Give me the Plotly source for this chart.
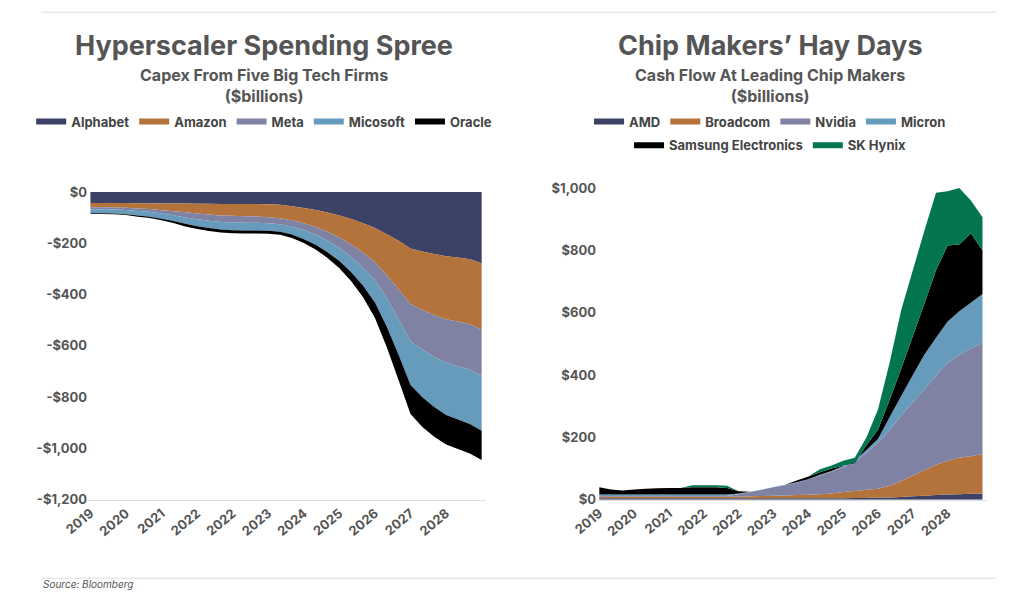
import plotly.graph_objects as go

# quarterly points, 2019 -> 2028
idx = list(range(34))
tick_pos = [0, 3, 6, 9, 12, 15, 18, 21, 24, 27, 30]
tick_txt = ["2019", "2020", "2021", "2022", "2022", "2023", "2024", "2025", "2026", "2027", "2028"]

# left: capex by firm ($bn, negative = spending), layer sizes
alphabet = [43,43,43,43,44,44,45,45,45,46,46,47,47,47,47,48,50,55,62,70,80,92,105,122,140,165,190,220,232,242,250,255,262,278]
amazon = [16,16,17,18,20,22,26,30,34,38,42,45,46,47,48,50,52,55,60,66,75,85,100,115,133,160,190,217,228,238,246,250,254,258]
meta = [8,8,8,9,10,11,13,16,20,22,24,25,26,26,25,24,24,25,27,30,35,40,48,58,70,90,115,145,155,163,170,174,177,180]
microsoft = [16,16,16,17,18,19,20,22,25,27,28,29,30,30,30,29,29,31,35,40,45,52,60,70,88,110,140,170,185,195,203,208,212,215]
oracle = [3,3,3,3,4,5,6,8,10,11,12,12,12,12,12,12,12,13,15,18,22,28,35,45,60,80,100,114,116,116,115,115,115,114]

# right: cash flow, cumulative stack tops ($bn)
amd_top = [5]*22 + [6,6,7,7,9,11,13,15,17,18,19,20]
broadcom_top = [10]*13 + [11,12,13,14,15,16,18,20,25,28,32,35,45,60,78,95,112,125,135,140,147]
nvidia_top = [12]*12 + [18,25,32,40,47,55,65,78,90,105,120,150,184,225,270,312,355,398,440,465,485,503]
micron_top = [17]*12 + [20,26,33,41,48,56,66,80,92,108,125,160,195,265,333,400,466,520,572,605,632,660]
samsung_top = [40,33,30,33,35,37,38,38,40,40,40,38,27,26,33,41,48,62,75,88,100,110,118,175,225,320,420,525,630,736,816,819,855,800]
skhynix_top = [40,33,30,33,35,37,38,38,47,47,47,45,27,26,33,41,48,62,75,98,110,125,135,200,290,440,609,736,864,985,990,1000,960,906]

NAVY, ORANGE, PURPLE, BLUE, BLACK, GREEN = "#3b4266", "#b5733c", "#8082a4", "#669bbc", "#000000", "#04764f"

# page body has an 8px margin; shift everything up/left by that much
DX = 8 / 1024
DY = 8 / 608

fig = go.Figure()
for name, vals, col in [("Alphabet", alphabet, NAVY), ("Amazon", amazon, ORANGE), ("Meta", meta, PURPLE),
                        ("Micosoft", microsoft, BLUE), ("Oracle", oracle, BLACK)]:
    fig.add_trace(go.Scatter(x=idx, y=[-v for v in vals], name=name, stackgroup="capex", mode="none",
                             fillcolor=col, legend="legend", xaxis="x", yaxis="y"))

first = True
for name, vals, col, leg in [("AMD", amd_top, NAVY, "legend2"), ("Broadcom", broadcom_top, ORANGE, "legend2"),
                             ("Nvidia", nvidia_top, PURPLE, "legend2"), ("Micron", micron_top, BLUE, "legend2"),
                             ("Samsung Electronics", samsung_top, BLACK, "legend3"),
                             ("SK Hynix", skhynix_top, GREEN, "legend3")]:
    fig.add_trace(go.Scatter(x=idx, y=vals, name=name, mode="none", fillcolor=col,
                             fill="tozeroy" if first else "tonexty",
                             legend=leg, xaxis="x2", yaxis="y2"))
    first = False

tickfont = dict(family="Inter", size=13, color="#555555", weight="bold")
xcommon = dict(tickvals=tick_pos, ticktext=tick_txt, tickangle=-40, tickfont=tickfont, showgrid=False,
               zeroline=False, showline=True, linecolor="#dddddd", ticks="", range=[-0.2, 33.4], automargin=False)
left_vals = [0, -200, -400, -600, -800, -1000, -1200]
left_txt = ["$0", "-$200", "-$400", "-$600", "-$800", "-$1,000", "-$1,200"]
right_vals = [0, 200, 400, 600, 800, 1000]
right_txt = ["$0", "$200", "$400", "$600", "$800", "$1,000"]

ydom = [0.178 + DY, 0.704 + DY]
legfont = dict(size=13, color="#444444", weight="bold")
fig.update_layout(
    width=1024, height=608, plot_bgcolor="white", paper_bgcolor="white",
    margin=dict(l=0, r=0, t=0, b=0),
    font=dict(family="Inter", color="#555555"),
    xaxis=dict(domain=[0.086 - DX, 0.475 - DX], anchor="y", **xcommon),
    yaxis=dict(domain=ydom, range=[-1200, 47], tickvals=left_vals, ticktext=left_txt,
               tickfont=tickfont, showgrid=False, zeroline=False, anchor="x", automargin=False),
    xaxis2=dict(domain=[0.583 - DX, 0.964 - DX], anchor="y2", **xcommon),
    yaxis2=dict(domain=ydom, range=[0, 1026], tickvals=right_vals, ticktext=right_txt,
                tickfont=tickfont, showgrid=False, zeroline=False, anchor="x2", automargin=False),
    legend=dict(orientation="h", x=0.258 - DX, xanchor="center", y=0.80 + DY, yanchor="middle",
                font=legfont, itemwidth=30, traceorder="normal"),
    legend2=dict(orientation="h", x=0.752 - DX, xanchor="center", y=0.80 + DY, yanchor="middle",
                 font=legfont, itemwidth=30, traceorder="normal"),
    legend3=dict(orientation="h", x=0.752 - DX, xanchor="center", y=0.761 + DY, yanchor="middle",
                 font=legfont, itemwidth=30, traceorder="normal"),
)

def title(x, main, sub):
    fig.add_annotation(x=x - DX, y=0.925 + DY, xref="paper", yref="paper", text=main, showarrow=False,
                       xanchor="center", font=dict(size=27, color="#555555", weight="bold"), yanchor="middle")
    fig.add_annotation(x=x - DX, y=0.86 + DY, xref="paper", yref="paper", text=sub, showarrow=False,
                       xanchor="center", font=dict(size=16, color="#555555", weight="bold"), yanchor="middle")

title(0.258, "Hyperscaler Spending Spree", "Capex From Five Big Tech Firms<br>($billions)")
title(0.752, "Chip Makers’ Hay Days", "Cash Flow At Leading Chip Makers<br>($billions)")

fig.add_annotation(x=0.04 - DX, y=0.026 + DY, xref="paper", yref="paper", text="<i>Source: Bloomberg</i>",
                   showarrow=False, xanchor="left", font=dict(size=10, color="#555555"))
for yy in [0.98 + DY, 0.049 + DY]:
    fig.add_shape(type="line", xref="paper", yref="paper", x0=0.04 - DX, x1=0.973 - DX, y0=yy, y1=yy,
                  line=dict(color="#dddddd", width=1))

fig.write_html("out.html")
